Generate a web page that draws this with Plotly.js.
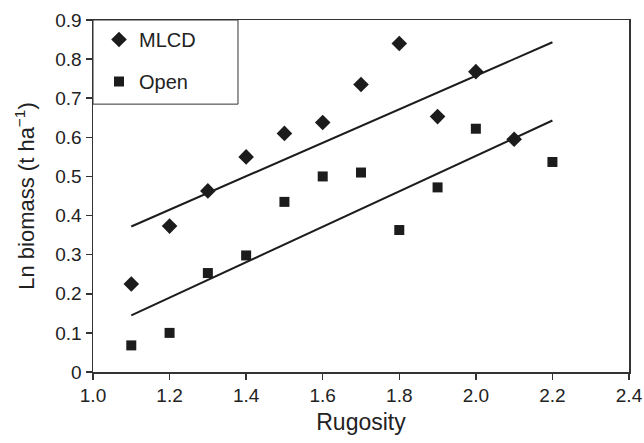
<!DOCTYPE html>
<html>
<head>
<meta charset="utf-8">
<script src="https://cdn.plot.ly/plotly-3.0.1.min.js"></script>
<style>html,body{margin:0;padding:0;background:#fff;}#chart{width:644px;height:443px;}</style>
</head>
<body>
<div id="chart"></div>
<script>
const mlcdX = [1.1, 1.2, 1.3, 1.4, 1.5, 1.6, 1.7, 1.8, 1.9, 2.0, 2.1];
const mlcdY = [0.225, 0.373, 0.463, 0.550, 0.610, 0.638, 0.735, 0.840, 0.653, 0.768, 0.595];
const openX = [1.1, 1.2, 1.3, 1.4, 1.5, 1.6, 1.7, 1.8, 1.9, 2.0, 2.2];
const openY = [0.068, 0.100, 0.253, 0.298, 0.435, 0.500, 0.510, 0.363, 0.472, 0.622, 0.537];
const mlcdFitX = [1.1, 2.2];
const mlcdFitY = [0.372, 0.843];
const openFitX = [1.1, 2.2];
const openFitY = [0.145, 0.643];
const xTicks = [1.0, 1.2, 1.4, 1.6, 1.8, 2.0, 2.2, 2.4];
const yTicks = [0, 0.1, 0.2, 0.3, 0.4, 0.5, 0.6, 0.7, 0.8, 0.9];

const ink = '#1c1c1c';
const traces = [
  {x: mlcdX, y: mlcdY, type: 'scatter', mode: 'markers', name: 'MLCD', legendgroup: 'a',
   marker: {symbol: 'diamond', size: 12, color: ink}},
  {x: openX, y: openY, type: 'scatter', mode: 'markers', name: 'Open', legendgroup: 'b',
   marker: {symbol: 'square', size: 10, color: ink}},
  {x: mlcdFitX, y: mlcdFitY, type: 'scatter', mode: 'lines', showlegend: false,
   line: {color: ink, width: 2}},
  {x: openFitX, y: openFitY, type: 'scatter', mode: 'lines', showlegend: false,
   line: {color: ink, width: 2}}
];

const layout = {
  width: 644, height: 443,
  margin: {l: 93, r: 15, t: 20, b: 71},
  paper_bgcolor: '#fff', plot_bgcolor: '#fff',
  font: {family: 'Liberation Sans, Arial, sans-serif', size: 19, color: '#222'},
  showlegend: true,
  legend: {x: 0, y: 1, xanchor: 'left', yanchor: 'top', bgcolor: 'rgba(0,0,0,0)',
    borderwidth: 0, font: {size: 20, color: '#222'}, indentation: 6,
    tracegroupgap: 13, traceorder: 'grouped'},
  shapes: [{type: 'rect', xref: 'paper', yref: 'paper', x0: 0, x1: 0.2705, y0: 0.761, y1: 1,
    line: {color: '#333', width: 1}, fillcolor: 'rgba(0,0,0,0)', layer: 'above'}],
  xaxis: {range: [1.0, 2.4], tickvals: xTicks, ticktext: xTicks.map(v => v.toFixed(1)),
    ticks: 'outside', ticklen: 6, tickwidth: 1.5, tickcolor: '#333',
    showline: true, linecolor: '#333', linewidth: 1.5, mirror: true,
    showgrid: false, zeroline: false,
    title: {text: 'Rugosity', font: {size: 23}, standoff: 8}},
  yaxis: {range: [0, 0.9], tickvals: yTicks, ticktext: yTicks.map(v => String(v)),
    ticks: 'outside', ticklen: 6, tickwidth: 1.5, tickcolor: '#333',
    showline: true, linecolor: '#333', linewidth: 1.5, mirror: true,
    showgrid: false, zeroline: false,
    title: {text: 'Ln biomass (t ha<sup>−1</sup>)', font: {size: 22}, standoff: 14}}
};

Plotly.newPlot('chart', traces, layout, {displayModeBar: false, staticPlot: true});
</script>
</body>
</html>
